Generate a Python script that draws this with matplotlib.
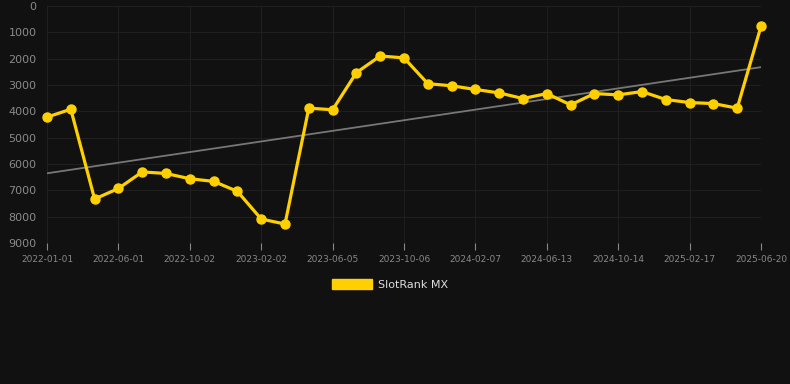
import matplotlib.pyplot as plt
import numpy as np
from matplotlib.patches import Patch

tick_labels = ["2022-01-01", "2022-06-01", "2022-10-02", "2023-02-02", "2023-06-05",
               "2023-10-06", "2024-02-07", "2024-06-13", "2024-10-14", "2025-02-17",
               "2025-06-20"]
rank = [4220, 3920, 7330, 6930, 6300, 6360, 6560, 6660, 7040, 8090, 8280,
        3880, 3940, 2530, 1900, 1970, 2950, 3030, 3170, 3300, 3515,
        3325, 3755, 3325, 3375, 3250, 3553, 3667, 3705, 3880, 770]

bg = "#111111"
gold = "#FFD000"

x = np.arange(len(rank))
coef = np.polyfit(x, rank, 1)
trend = np.polyval(coef, x)

fig = plt.figure(figsize=(7.9, 3.84), dpi=100, facecolor=bg)
ax = fig.add_axes([47 / 790, 1 - 243 / 384, 714 / 790, 237 / 384])
ax.set_facecolor(bg)

ax.plot(x, trend, color="#777777", linewidth=1.3, zorder=2)
ax.plot(x, rank, color=gold, linewidth=2.3, marker="o", markersize=6.5,
        clip_on=False, zorder=3)

ax.set_xlim(0, len(rank) - 1)
ax.set_ylim(9000, 0)
ax.set_yticks(range(0, 9001, 1000))
ax.set_xticks(x[::3])
ax.set_xticklabels(tick_labels)

ax.grid(True, color="#1f1f1f", linewidth=0.8)
ax.set_axisbelow(True)
for s in ax.spines.values():
    s.set_visible(False)
ax.axhline(9000, color="#2a2a2a", linewidth=0.8, zorder=1)

ax.tick_params(axis="y", colors="#8a8a8a", labelsize=8, length=0, pad=7.5)
ax.tick_params(axis="x", colors="#888888", labelsize=6.5, length=5, pad=4)
for t in ax.xaxis.get_ticklines():
    t.set_color("#2a2a2a")

handle = Patch(facecolor=gold, edgecolor=gold)
leg = fig.legend([handle], ["SlotRank MX"], loc="center", bbox_to_anchor=(0.494, 0.26),
                 frameon=False, fontsize=8, handlelength=3.6, handleheight=1.1,
                 handletextpad=0.5, labelcolor="#dddddd")

fig.savefig("out.png", dpi=100, facecolor=bg)
